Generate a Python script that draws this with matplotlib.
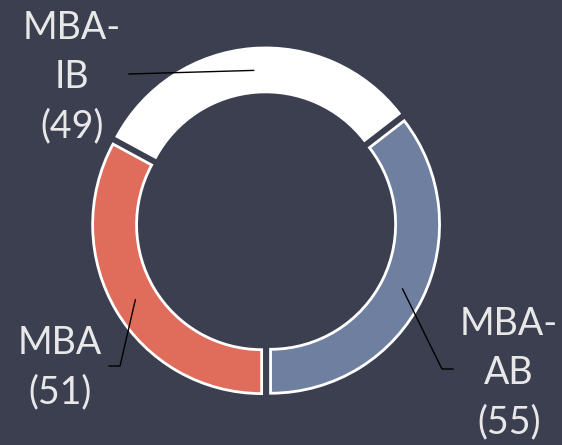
import numpy as np
import matplotlib
matplotlib.use("Agg")
import matplotlib.pyplot as plt

labels = ["MBA-\nAB\n(55)", "MBA-\nIB\n(49)", "MBA\n(51)"]
values = [55, 49, 51]
colors = ["#6f7fa0", "#ffffff", "#e06c5c"]

bg = "#3b3f50"
txt = "#e8e8e8"
s = 169.0  # px per data unit
cx, cy = 266, 222
width = 0.26
explode = 0.03

fig = plt.figure(figsize=(5.62, 4.45), dpi=100, facecolor=bg)
ax = fig.add_axes([0, 0, 1, 1])
ax.set_facecolor(bg)

wedges, _ = ax.pie(values, colors=colors, startangle=-90, counterclock=True,
                   radius=1.0, explode=[explode] * 3,
                   wedgeprops=dict(width=width, edgecolor="white", linewidth=2))

def px(x, y):
    return (x - cx) / s, (cy - y) / s

# label text positions and leader-line points (pixels)
text_pos = [(509, 373), (72, 77), (60, 368)]
leader = [[(442, 369), (453, 369)], [(129, 74)], [(120, 366), (109, 366)]]

for w, lab, tp, pts in zip(wedges, labels, text_pos, leader):
    ang = np.deg2rad((w.theta1 + w.theta2) / 2)
    r = 1 - width / 2 + explode
    x0, y0 = r * np.cos(ang), r * np.sin(ang)
    xs = [x0] + [px(*p)[0] for p in pts]
    ys = [y0] + [px(*p)[1] for p in pts]
    ax.plot(xs, ys, color="black", lw=1)
    tx, ty = px(*tp)
    ax.text(tx, ty, lab, ha="center", va="center", color=txt, fontsize=27,
            family="Lato", linespacing=1.45)

ax.set_xlim(-cx / s, (562 - cx) / s)
ax.set_ylim(-(445 - cy) / s, cy / s)
ax.axis("off")

fig.savefig("out.png", dpi=100, facecolor=bg)
